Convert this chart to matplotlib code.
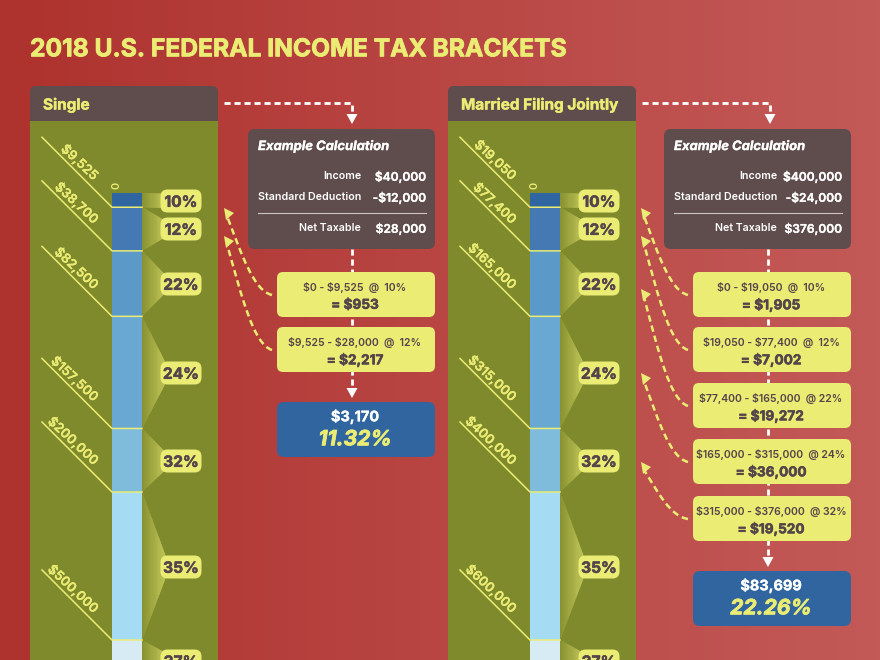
import numpy as np
import matplotlib
matplotlib.use("Agg")
import matplotlib.pyplot as plt
import matplotlib.patheffects as pe
from matplotlib.colors import to_rgb
from matplotlib.patches import FancyBboxPatch, PathPatch, Polygon, Rectangle
from matplotlib.path import Path

FONT = "Inter"
plt.rcParams["font.family"] = [FONT, "DejaVu Sans"]

TITLE = "2018 U.S. FEDERAL INCOME TAX BRACKETS"
rates = ["10%", "12%", "22%", "24%", "32%", "35%", "37%"]
single_edges = [0, 9525, 38700, 82500, 157500, 200000, 500000]
joint_edges = [0, 19050, 77400, 165000, 315000, 400000, 600000]
single_calc = [("Income", "$40,000"), ("Standard Deduction", "-$12,000"), ("Net Taxable", "$28,000")]
joint_calc = [("Income", "$400,000"), ("Standard Deduction", "-$24,000"), ("Net Taxable", "$376,000")]
single_steps = [("$0 - $9,525  @  10%", "= $953"), ("$9,525 - $28,000  @  12%", "= $2,217")]
joint_steps = [("$0 - $19,050  @  10%", "= $1,905"),
               ("$19,050 - $77,400  @  12%", "= $7,002"),
               ("$77,400 - $165,000  @ 22%", "= $19,272"),
               ("$165,000 - $315,000  @ 24%", "= $36,000"),
               ("$315,000 - $376,000  @ 32%", "= $19,520")]
single_total = ("$3,170", "11.32%")
joint_total = ("$83,699", "22.26%")

YELLOW = "#EBEC74"
OLIVE = "#7F8A2C"
BROWN = "#5F4C4C"
DARKTXT = "#54454A"
BLUES = ["#2F65A0", "#4479B3", "#5B9AC8", "#69A8D2", "#7FBCDC", "#A5DCF3", "#D6EBF3"]

fig = plt.figure(figsize=(8.8, 6.6), dpi=100)
ax = fig.add_axes([0, 0, 1, 1])
ax.set_xlim(0, 880)
ax.set_ylim(660, 0)
ax.axis("off")


def pt(px):
    return px * 72 / 100


def tx(x, y, s, px, color, ha="center", weight="bold", style="normal", rot=0, z=10, stroke=0):
    t = ax.text(x, y - 0.7, s, fontsize=pt(px), color=color, ha=ha, va="center_baseline", fontweight=weight,
                fontstyle=style, rotation=rot, rotation_mode="anchor", zorder=z, parse_math=False)
    if stroke:
        t.set_path_effects([pe.withStroke(linewidth=stroke, foreground=color)])


def box(x0, y0, x1, y1, color, r=7, z=5, ec="none"):
    ax.add_patch(FancyBboxPatch((x0 + r, y0 + r), x1 - x0 - 2 * r, y1 - y0 - 2 * r,
                                boxstyle=f"round,pad={r},rounding_size={r}",
                                fc=color, ec=ec, lw=0.8, zorder=z))


# background gradient
grad = np.linspace(0, 1, 220)[None, :, None]
c0 = np.array([174, 50, 46]) / 255
c1 = np.array([195, 90, 88]) / 255
ax.imshow(c0 + (c1 - c0) * grad, extent=(0, 880, 660, 0), aspect="auto", zorder=0)
ax.set_xlim(0, 880)
ax.set_ylim(660, 0)

tx(30, 48, TITLE, 24.6, YELLOW, ha="left", weight="bold", stroke=0.6)


def white_dash(xs, ys, head=None):
    ax.plot(xs, ys, color="white", lw=2, dashes=(2.2, 1.4), zorder=2, solid_capstyle="butt")
    if head is not None:
        ax.add_patch(Polygon([(xs[-1] - 5.5, head), (xs[-1] + 5.5, head), (xs[-1], head + 10)],
                             fc="white", ec="none", zorder=3))


def yellow_arrow(x0, y0, x1, y1):
    # dashed curve from a step box back to its bracket pill
    dx, dy = x1 - x0, y1 - y0
    verts = [(x0, y0), (x0 + 0.38 * dx, y0 + 0.05 * dy), (x0 + 0.62 * dx, y0 + 0.45 * dy), (x1 + 3, y1 + 8)]
    ax.add_patch(PathPatch(Path(verts, [Path.MOVETO, Path.CURVE4, Path.CURVE4, Path.CURVE4]),
                           fc="none", ec=YELLOW, lw=1.8, ls=(0, (2.6, 1.6)), zorder=3))
    ax.add_patch(Polygon([(x1, y1), (x1 + 10, y1 + 5), (x1 + 2, y1 + 12)], fc=YELLOW, ec="none", zorder=3))


def fan(bar_r, tip, top, bot, cy):
    # gradient wedge from a bar segment to its rate pill, drawn as opaque slices
    olive, yel = np.array(to_rgb(OLIVE)), np.array(to_rgb(YELLOW))
    n = 22
    ts = np.linspace(0, 1, n + 1)
    for a, b in zip(ts[:-1], ts[1:]):
        xa, xb = bar_r + a * (tip - bar_r), bar_r + b * (tip - bar_r)
        ta, tb = top + a * (cy - 7 - top), top + b * (cy - 7 - top)
        ba, bb = bot + a * (cy + 7 - bot), bot + b * (cy + 7 - bot)
        col = olive + (yel - olive) * (0.08 + 0.6 * (a + b) / 2)
        ax.add_patch(Polygon([(xa, ta), (xb, tb), (xb, bb), (xa, ba)], fc=col, ec=col, lw=0.3, zorder=3))


def panel(px0, edges, name, calc, steps, total, step_tops, total_top, cx0, sx0, pill_arrow_ys, x_div):
    # px0: panel left edge, bar scale is in dollars through np.interp
    bar_l, bar_r = px0 + 82, px0 + 112
    pill_x = px0 + 151
    dollars = np.array(edges + [edges[-1] * 1.15], dtype=float)
    y_of = lambda v: np.interp(v, dollars[[0, 5, 6]], [193, 492, 640])

    box(px0, 86, px0 + 188, 130, BROWN, r=6, z=1)
    ax.add_patch(Rectangle((px0, 121), 188, 545, fc=OLIVE, ec="none", zorder=2))
    tx(px0 + 13, 104, name, 15.3, YELLOW, ha="left", stroke=0.3)

    ys = [y_of(v) for v in dollars]
    ys[-1] = 690
    for i, rate in enumerate(rates):
        top, bot = ys[i], ys[i + 1]
        ax.bar(bar_l, bot - top, bottom=top, width=bar_r - bar_l, align="edge", color=BLUES[i], zorder=4)
        cy = [201, 229, 284, 373, 461, 567, 661][i]
        fan(bar_r, pill_x - 14, top, bot, cy)
        box(pill_x - 20.5, cy - 11.5, pill_x + 20.5, cy + 11.5, YELLOW, r=7, z=6)
        tx(pill_x, cy + 0.5, rate, 15.5, DARKTXT, weight="bold", stroke=0.4)

    for i in range(1, 7):
        y = ys[i]
        ax.plot([px0 + 12, bar_l, bar_r], [y - 70, y, y], color=YELLOW, lw=1.1, zorder=5)
        tx(px0 + 67, y - 30, f"${edges[i]:,}", 13, YELLOW, ha="right", rot=-43, weight="semibold", stroke=0.2)
    tx(px0 + 86, 186, "0", 11, YELLOW, rot=90, weight="semibold")

    # example box
    box(cx0, 129, cx0 + 187, 249, BROWN, r=7)
    tx(cx0 + 10, 146, "Example Calculation", 13, "white", ha="left", style="italic", weight="bold", stroke=0.2)
    for (lab, val), y in zip(calc, [176, 197, 228]):
        tx(cx0 + 113, y, lab, 10.6, "white", ha="right", weight="semibold")
        tx(cx0 + 178, y, val, 12, "white", ha="right", weight="semibold", stroke=0.2)
    ax.plot([cx0 + 10, cx0 + 178], [212.5, 212.5], color="#CDC6C4", lw=0.8, zorder=6)

    # dashed connectors
    white_dash([px0 + 194, px0 + 322, px0 + 322], [103, 103, 114], head=114)
    mid = cx0 + 104
    white_dash([mid, mid], [249, total_top - 14], head=total_top - 14)
    # step boxes and arrows
    for (a, b), top, ay in zip(steps, step_tops, pill_arrow_ys):
        box(sx0, top, sx0 + 158, top + 45, YELLOW, r=6)
        tx(sx0 + 78, top + 15, a, 10.5, DARKTXT, weight="semibold")
        tx(sx0 + 78, top + 32, b, 13.6, DARKTXT, weight="bold", stroke=0.4)
        yellow_arrow(sx0 - 5, top + 23, x_div, ay)

    box(sx0, total_top, sx0 + 158, total_top + 55, "#30659F", r=7)
    tx(sx0 + 78, total_top + 14, total[0], 14.5, "white", stroke=0.2)
    tx(sx0 + 78, total_top + 36, total[1], 21, YELLOW, style="italic", weight="bold", stroke=0.6)


panel(30, single_edges, "Single", single_calc, single_steps, single_total,
      [272, 327], 402, 248, 277, [208, 236], 224)
panel(448, joint_edges, "Married Filing Jointly", joint_calc, joint_steps, joint_total,
      [272, 327, 383, 439, 496], 571, 664, 693, [208, 236, 289, 373, 462], 641)

fig.savefig("out.png", dpi=100)
